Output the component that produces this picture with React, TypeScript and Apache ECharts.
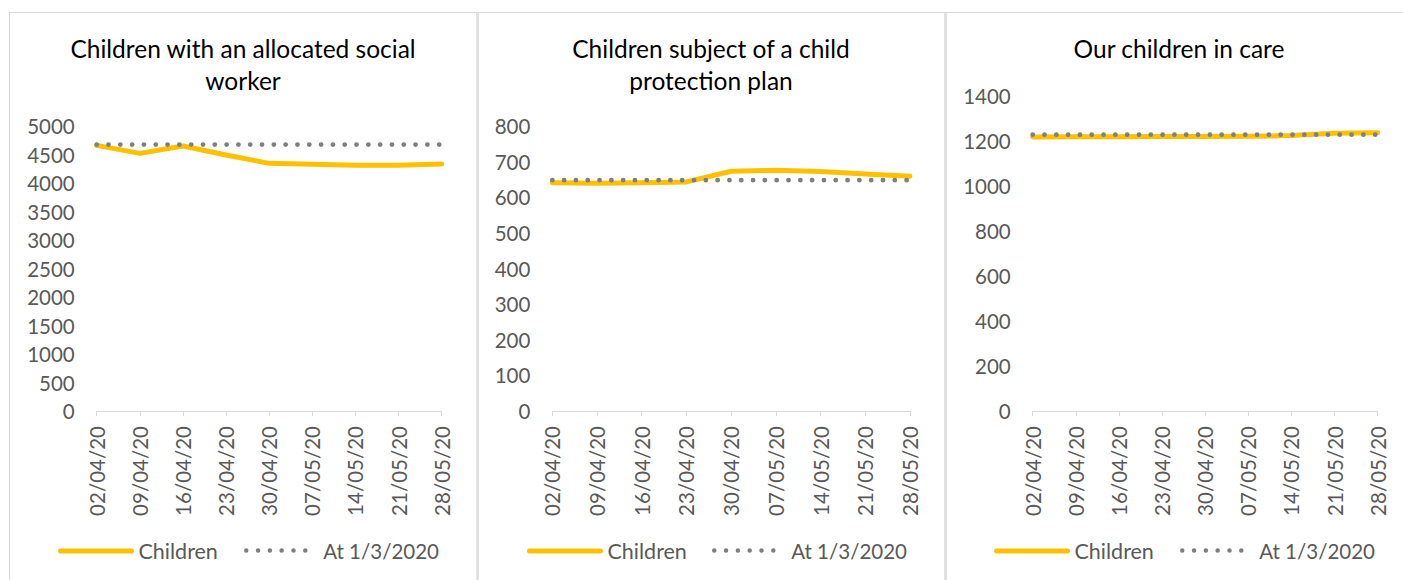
import React, { useEffect, useRef } from "react";
import * as echarts from "echarts";

const dates = ["02/04/20", "09/04/20", "16/04/20", "23/04/20", "30/04/20", "07/05/20", "14/05/20", "21/05/20", "28/05/20"];

const allocatedChildren = [4660, 4520, 4650, 4490, 4345, 4328, 4310, 4310, 4333];
const allocatedBaseline = [4675, 4675, 4675, 4675, 4675, 4675, 4675, 4675, 4675];

const planChildren = [641, 639, 641, 643, 673, 676, 672, 665, 659];
const planBaseline = [648, 648, 648, 648, 648, 648, 648, 648, 648];

const careChildren = [1218, 1219, 1219, 1220, 1220, 1221, 1224, 1234, 1237];
const careBaseline = [1228, 1228, 1228, 1228, 1228, 1228, 1228, 1228, 1228];

const titles = ["Children with an allocated social\nworker", "Children subject of a child\nprotection plan", "Our children in care"];
const yMax = [5000, 800, 1400];
const yStep = [500, 100, 200];
const seriesNames = ["Children", "At 1/3/2020"];

const FONT = "Lato, 'DejaVu Sans', sans-serif";
const YELLOW = "#FFC000";
const GREY = "#7F7F7F";
const LABEL = "#595959";
const BORDER = "#D9D9D9";

export default function App() {
  const ref = useRef<HTMLDivElement>(null);

  useEffect(() => {
    document.body.style.margin = "0";
    if (!ref.current) return;
    const chart = echarts.init(ref.current, null, { renderer: "svg" });

    const grids = [
      { left: 96.7, top: 126, width: 345, height: 285 },
      { left: 552.3, top: 126, width: 357.7, height: 285 },
      { left: 1032.7, top: 96, width: 345, height: 315 },
    ];
    const childData = [allocatedChildren, planChildren, careChildren];
    const baseData = [allocatedBaseline, planBaseline, careBaseline];
    const titlePos = [
      { x: 243, y: 64 },
      { x: 711, y: 64 },
      { x: 1179, y: 48 },
    ];
    const legendPos = [
      { a: 58, b: 244 },
      { a: 527, b: 712 },
      { a: 994, b: 1180 },
    ];

    const series: any[] = [];
    for (let i = 0; i < 3; i++) {
      series.push({
        name: seriesNames[0],
        type: "line",
        xAxisIndex: i,
        yAxisIndex: i,
        data: childData[i],
        symbol: "none",
        lineStyle: { color: YELLOW, width: 5, cap: "round", join: "round" },
        itemStyle: { color: YELLOW },
        z: 2,
      });
      series.push({
        name: seriesNames[1],
        type: "line",
        xAxisIndex: i,
        yAxisIndex: i,
        data: baseData[i],
        symbol: "none",
        lineStyle: { color: GREY, width: 4.8, type: [0.01, 11.8], cap: "round" },
        itemStyle: { color: GREY },
        z: 3,
      });
    }

    const hiddenSymbol = { color: "rgba(0,0,0,0)", borderWidth: 0, opacity: 0 };
    const legends: any[] = [];
    legendPos.forEach((p) => {
      legends.push({
        left: p.a,
        top: 540,
        padding: 0,
        data: [seriesNames[0]],
        itemWidth: 71,
        itemHeight: 14,
        selectedMode: false,
        itemStyle: hiddenSymbol,
        lineStyle: { width: 5 },
        textStyle: { fontFamily: FONT, fontSize: 21.5, color: LABEL, padding: [0, 0, 0, 2] },
      });
      legends.push({
        left: p.b,
        top: 540,
        padding: 0,
        data: [seriesNames[1]],
        itemWidth: 62,
        itemHeight: 14,
        selectedMode: false,
        itemStyle: hiddenSymbol,
        lineStyle: { width: 4.5 },
        textStyle: { fontFamily: FONT, fontSize: 20.5, color: LABEL, padding: [0, 0, 0, 10] },
      });
    });

    const graphic: any[] = [
      { type: "line", shape: { x1: 9, y1: 12.5, x2: 1403, y2: 12.5 }, style: { stroke: BORDER, lineWidth: 1 }, silent: true },
      { type: "line", shape: { x1: 9.5, y1: 12, x2: 9.5, y2: 580 }, style: { stroke: BORDER, lineWidth: 1 }, silent: true },
      { type: "line", shape: { x1: 477.5, y1: 12, x2: 477.5, y2: 580 }, style: { stroke: "#E0E0E0", lineWidth: 3 }, silent: true },
      { type: "line", shape: { x1: 945.5, y1: 12, x2: 945.5, y2: 580 }, style: { stroke: "#E0E0E0", lineWidth: 3 }, silent: true },
    ];
    titles.forEach((t, i) => {
      graphic.push({
        type: "text",
        x: titlePos[i].x,
        y: titlePos[i].y,
        style: {
          text: t,
          textAlign: "center",
          textVerticalAlign: "middle",
          fontFamily: FONT,
          fontSize: 24.5,
          lineHeight: 32,
          fill: "#000000",
        },
      });
    });

    chart.setOption({
      animation: false,
      backgroundColor: "#FFFFFF",
      grid: grids,
      xAxis: grids.map((_, i) => ({
        type: "category",
        gridIndex: i,
        data: dates,
        boundaryGap: false,
        axisLine: { show: true, lineStyle: { color: BORDER, width: 1 } },
        axisTick: { show: true, length: 5, lineStyle: { color: BORDER } },
        axisLabel: { interval: 0, rotate: 90, margin: 15, fontFamily: FONT, fontSize: 20.5, color: LABEL },
        splitLine: { show: false },
      })),
      yAxis: grids.map((_, i) => ({
        type: "value",
        gridIndex: i,
        min: 0,
        max: yMax[i],
        interval: yStep[i],
        axisLine: { show: false },
        axisTick: { show: false },
        splitLine: { show: false },
        axisLabel: {
          margin: 22,
          fontFamily: FONT,
          fontSize: 20.5,
          color: LABEL,
          formatter: (v: number) => String(v),
        },
      })),
      legend: legends,
      graphic,
      series,
    });

    return () => chart.dispose();
  }, []);

  return <div ref={ref} style={{ width: 1403, height: 580 }} />;
}
